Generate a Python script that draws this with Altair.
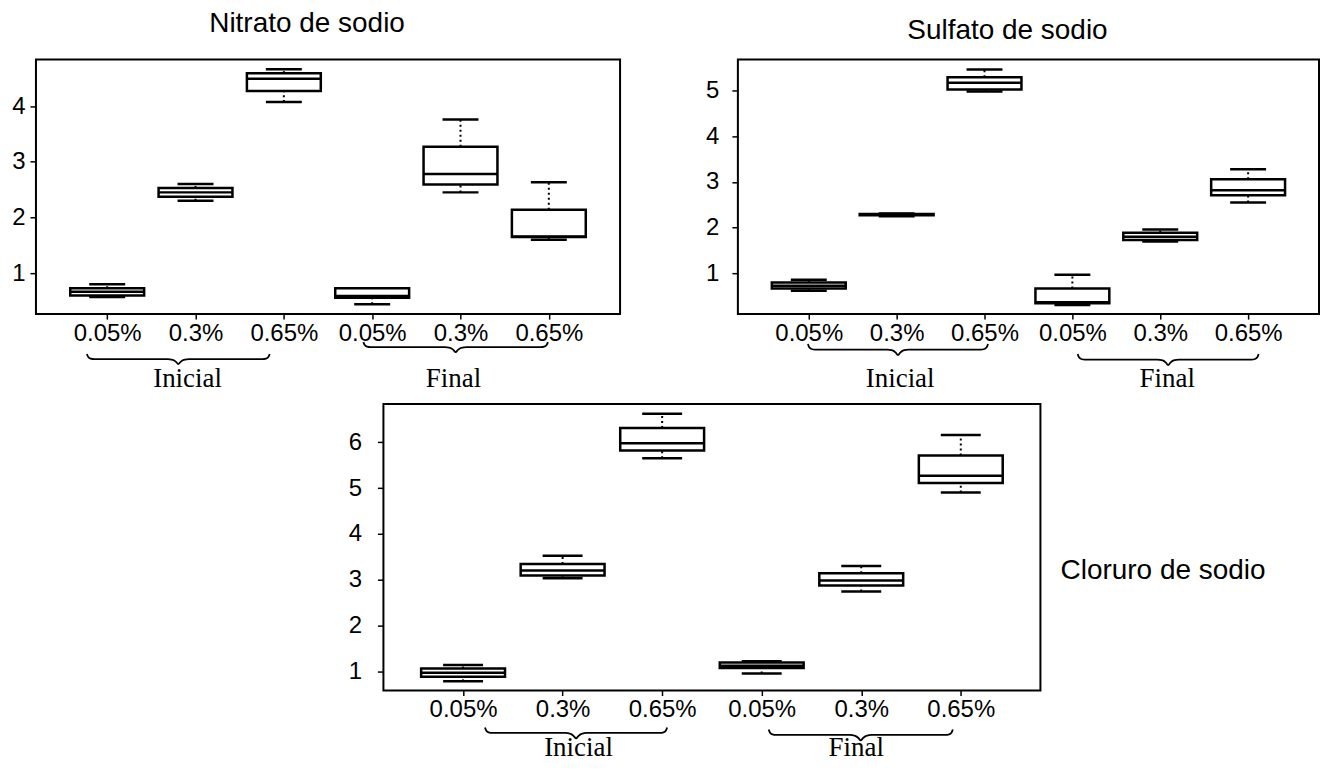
import altair as alt
import pandas as pd

positions = [1, 2, 3, 4, 5, 6]
tick_labels = ["0.05%", "0.3%", "0.65%", "0.05%", "0.3%", "0.65%"]
groups = ["Inicial", "Final"]

# Nitrato de sodio
nit_lo = [0.57, 2.30, 4.07, 0.44, 2.45, 1.60]
nit_q1 = [0.60, 2.37, 4.27, 0.56, 2.59, 1.65]
nit_med = [0.665, 2.45, 4.49, 0.59, 2.78, 1.66]
nit_q3 = [0.73, 2.53, 4.59, 0.73, 3.27, 2.14]
nit_hi = [0.80, 2.60, 4.66, 0.73, 3.76, 2.63]

# Sulfato de sodio
sul_lo = [0.62, 2.25, 4.98, 0.31, 1.70, 2.55]
sul_q1 = [0.67, 2.27, 5.02, 0.35, 1.73, 2.71]
sul_med = [0.73, 2.29, 5.17, 0.37, 1.80, 2.82]
sul_q3 = [0.80, 2.30, 5.29, 0.67, 1.89, 3.06]
sul_hi = [0.86, 2.31, 5.46, 0.97, 1.96, 3.28]

# Cloruro de sodio
clo_lo = [0.78, 3.03, 5.65, 0.95, 2.74, 4.90]
clo_q1 = [0.88, 3.09, 5.82, 1.07, 2.87, 5.11]
clo_med = [0.97, 3.20, 5.98, 1.12, 2.98, 5.27]
clo_q3 = [1.06, 3.34, 6.31, 1.19, 3.14, 5.71]
clo_hi = [1.14, 3.52, 6.62, 1.22, 3.30, 6.16]

# brace annotations: [start, end] along the x scale, and label centres
nit_brace = [[0.77, 2.84], [3.90, 5.99]]
nit_label_x = [1.91, 4.92]
sul_brace = [[0.99, 3.04], [4.06, 6.12]]
sul_label_x = [2.04, 5.08]
clo_brace = [[1.22, 3.05], [4.07, 5.92]]
clo_label_x = [2.16, 4.95]

# brace template (end -> middle), fraction of half length / depth
brace_u = [0.0, 0.015, 0.04, 0.08, 0.88, 0.94, 0.975, 1.0]
brace_v = [0.0, 0.30, 0.45, 0.50, 0.50, 0.58, 0.78, 1.0]

XDOM = [0.25, 6.75]
label_expr = "[" + ",".join("'%s'" % t for t in tick_labels) + "][datum.value - 1]"


def brace_frame(braces, tops, depth):
    rows = []
    for bi, ((x0, x1), top) in enumerate(zip(braces, tops)):
        half = (x1 - x0) / 2.0
        k = 0
        for u, v in zip(brace_u, brace_v):
            rows.append({"bid": bi, "k": k, "bx": x0 + u * half, "by": top + v * depth})
            k += 1
        for u, v in list(zip(brace_u, brace_v))[::-1][1:]:
            rows.append({"bid": bi, "k": k, "bx": x1 - u * half, "by": top + v * depth})
            k += 1
    return pd.DataFrame(rows)


def panel(lo, q1, med, q3, hi, ydom, yticks, width, height, box_px, cap_px,
          ypad, braces, tops, depth, label_x, label_y, title):
    df = pd.DataFrame({"pos": positions, "lo": lo, "q1": q1, "med": med, "q3": q3, "hi": hi})
    xscale = alt.Scale(domain=XDOM, nice=False, zero=False)
    xaxis = alt.Axis(values=positions, labelExpr=label_expr, title=None,
                     grid=False, domain=False, tickSize=5, labelPadding=2)
    xenc = alt.X("pos:Q", scale=xscale, axis=xaxis)
    yscale = alt.Scale(domain=ydom, nice=False, zero=False)
    yaxis = alt.Axis(values=yticks, format="d", title=None, grid=False, domain=False,
                     tickSize=6, labelPadding=ypad)
    base = alt.Chart(df).encode(x=xenc)
    up = base.mark_rule(color="black", strokeWidth=2, strokeDash=[2, 3]).encode(
        y=alt.Y("q3:Q", scale=yscale, axis=yaxis), y2="hi:Q")
    down = base.mark_rule(color="black", strokeWidth=2, strokeDash=[2, 3]).encode(
        y=alt.Y("lo:Q", scale=yscale, axis=yaxis), y2="q1:Q")
    cap_hi = base.mark_tick(orient="horizontal", size=cap_px, thickness=2.5, color="black", opacity=1).encode(
        y=alt.Y("hi:Q", scale=yscale, axis=yaxis))
    cap_lo = base.mark_tick(orient="horizontal", size=cap_px, thickness=2.5, color="black", opacity=1).encode(
        y=alt.Y("lo:Q", scale=yscale, axis=yaxis))
    box = base.mark_bar(size=box_px, fill="white", stroke="black", strokeWidth=2.5).encode(
        y=alt.Y("q1:Q", scale=yscale, axis=yaxis), y2="q3:Q")
    median = base.mark_tick(orient="horizontal", size=box_px, thickness=2.5, color="black", opacity=1).encode(
        y=alt.Y("med:Q", scale=yscale, axis=yaxis))
    data_layers = alt.layer(up, down, cap_hi, cap_lo, box, median)

    ann_scale = alt.Scale(domain=[0, 100], range=[height, height + 100])
    bdf = brace_frame(braces, tops, depth)
    brace = alt.Chart(bdf).mark_line(color="black", strokeWidth=1.8, interpolate="monotone").encode(
        x=alt.X("bx:Q", scale=xscale, axis=xaxis),
        y=alt.Y("by:Q", scale=ann_scale, axis=None),
        detail="bid:N", order="k:Q")
    ldf = pd.DataFrame({"lx": label_x, "ly": [label_y] * len(groups), "lab": groups})
    labels = alt.Chart(ldf).mark_text(font="Liberation Serif", fontSize=27, color="black",
                                      align="center", baseline="middle").encode(
        x=alt.X("lx:Q", scale=xscale, axis=xaxis),
        y=alt.Y("ly:Q", scale=ann_scale, axis=None),
        text="lab:N")
    ann = alt.layer(brace, labels)
    return alt.layer(data_layers, ann).resolve_scale(y="independent").properties(
        width=width, height=height, title=title)


t1 = alt.TitleParams("Nitrato de sodio", font="Liberation Sans", fontSize=28, fontWeight="normal",
                     color="black", anchor="middle", dx=-21, offset=0, dy=6, baseline="bottom")
t2 = alt.TitleParams("Sulfato de sodio", font="Liberation Sans", fontSize=28, fontWeight="normal",
                     color="black", anchor="middle", dx=-21, offset=0, dy=13, baseline="bottom")
t3 = alt.TitleParams("Cloruro de sodio", font="Liberation Sans", fontSize=28, fontWeight="normal",
                     color="black", orient="right", angle=0, align="right", baseline="middle",
                     anchor="middle", offset=20, dy=24)

p1 = panel(nit_lo, nit_q1, nit_med, nit_q3, nit_hi, [0.265, 4.835], [1, 2, 3, 4], 585, 255, 74, 36,
           5, nit_brace, [40, 28], 10, nit_label_x, 65, t1)
p2 = panel(sul_lo, sul_q1, sul_med, sul_q3, sul_hi, [0.111, 5.677], [1, 2, 3, 4, 5], 582, 255, 74, 36,
           13, sul_brace, [30, 40], 11, sul_label_x, 65, t2)
p3 = panel(clo_lo, clo_q1, clo_med, clo_q3, clo_hi, [0.58, 6.835], [1, 2, 3, 4, 5, 6], 658, 287, 84, 40,
           16, clo_brace, [37, 39], 11, clo_label_x, 58, t3)

spacer = alt.Chart(pd.DataFrame({"v": [0]})).mark_point(opacity=0).encode(
    x=alt.X("v:Q", axis=None), y=alt.Y("v:Q", axis=None)).properties(
    width=311, height=1, view=alt.ViewBackground(strokeOpacity=0))

top_row = alt.hconcat(p1, p2, spacing=83)
bottom_row = alt.hconcat(spacer, p3, spacing=0)

chart = alt.vconcat(top_row, bottom_row, spacing=8).properties(
    padding={"left": 2, "top": 0, "right": 0, "bottom": 0},
    background="white"
).configure_view(stroke="black", strokeWidth=2).configure_axis(
    labelFont="Liberation Sans", labelFontSize=24, labelColor="black",
    tickColor="black", tickWidth=1.5
)

chart.save("out.html", embed_options={"renderer": "svg", "actions": False})
